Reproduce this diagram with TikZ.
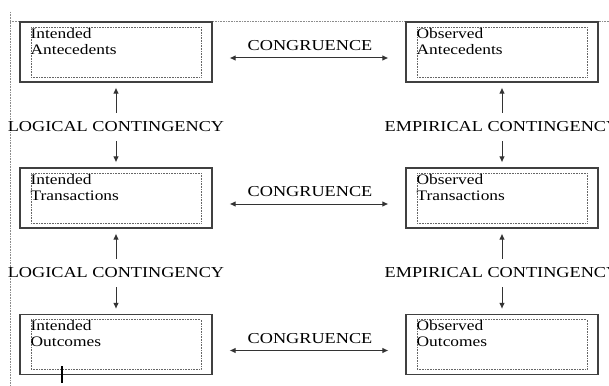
\documentclass[tikz,border=0pt]{standalone}
\usepackage{fontspec}
\setmainfont{Liberation Serif}[FakeStretch=1.2]
\usepackage{tikz}
\usetikzlibrary{arrows.meta}
\tikzstyle{outer} = [draw=black!75, line width=1.1pt, minimum width=192pt, minimum height=60pt, inner sep=0pt]
\tikzstyle{inner} = [draw=black!60, line width=0.6pt, dash pattern=on 0.8pt off 0.8pt, minimum width=170pt, minimum height=50pt, inner sep=0pt]
\tikzstyle{txt} = [anchor=base west, align=left, inner sep=0pt, font={\fontsize{14.5}{16}\selectfont}]
\tikzstyle{lbl} = [inner xsep=2pt, inner ysep=9pt, font={\fontsize{15.2}{17}\selectfont}]
\tikzstyle{arr} = [draw=black!80, line width=1pt, >={Latex[length=6pt,width=5.5pt]}]
\tikzstyle{frame} = [draw=black!45, line width=0.6pt, dash pattern=on 0.8pt off 0.8pt]

\begin{document}
\begin{tikzpicture}[x=1pt,y=-1pt]
  \useasboundingbox (0,0) rectangle (609,385);
  \draw[frame](10,21)--(609,21);
  \draw[frame](10,12)--(10,385);
  % intended column
  \node[outer](ia) at (116,52){};
  \node[outer](it) at (116,198){};
  \node[outer](io) at (116,344.5){};
  % observed column
  \node[outer](oa) at (502,52){};
  \node[outer](ot) at (502,198){};
  \node[outer](oo) at (502,344.5){};
  \foreach \b in {ia,it,io,oa,ot,oo}
    \node[inner](\b in) at (\b){};
  \node[txt](ia t) at ([xshift=11pt,yshift=-33pt]ia.north west){Intended\\Antecedents};
  \node[txt](it t) at ([xshift=11pt,yshift=-33pt]it.north west){Intended\\Transactions};
  \node[txt](io t) at ([xshift=11pt,yshift=-33pt]io.north west){Intended\\Outcomes};
  \node[txt](oa t) at ([xshift=11pt,yshift=-33pt]oa.north west){Observed\\Antecedents};
  \node[txt](ot t) at ([xshift=11pt,yshift=-33pt]ot.north west){Observed\\Transactions};
  \node[txt](oo t) at ([xshift=11pt,yshift=-33pt]oo.north west){Observed\\Outcomes};
  % contingencies
  \node[lbl](lc1) at (116,127){LOGICAL CONTINGENCY};
  \node[lbl](lc2) at (116,273){LOGICAL CONTINGENCY};
  \node[lbl](ec1) at (502,127){EMPIRICAL CONTINGENCY};
  \node[lbl](ec2) at (502,273){EMPIRICAL CONTINGENCY};
  \draw[arr,->,shorten >=5pt](lc1)--(ia);
  \draw[arr,->,shorten >=5pt](lc1)--(it);
  \draw[arr,->,shorten >=5pt](lc2)--(it);
  \draw[arr,->,shorten >=5pt](lc2)--(io);
  \draw[arr,->,shorten >=5pt](ec1)--(oa);
  \draw[arr,->,shorten >=5pt](ec1)--(ot);
  \draw[arr,->,shorten >=5pt](ec2)--(ot);
  \draw[arr,->,shorten >=5pt](ec2)--(oo);
  % congruence
  \node[lbl,inner sep=0pt](c1) at (310,46){CONGRUENCE};
  \node[lbl,inner sep=0pt](c2) at (310,192){CONGRUENCE};
  \node[lbl,inner sep=0pt](c3) at (310,338.5){CONGRUENCE};
  \draw[arr,<->,shorten <=17pt,shorten >=17pt]([yshift=-6pt]ia.east)--([yshift=-6pt]oa.west);
  \draw[arr,<->,shorten <=17pt,shorten >=17pt]([yshift=-6pt]it.east)--([yshift=-6pt]ot.west);
  \draw[arr,<->,shorten <=17pt,shorten >=17pt]([yshift=-6pt]io.east)--([yshift=-6pt]oo.west);
  \draw[line width=1.6pt](62,366)--(62,383);
\end{tikzpicture}
\end{document}
